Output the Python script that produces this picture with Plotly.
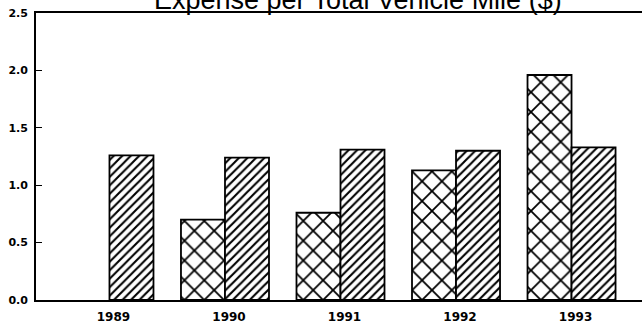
import plotly.graph_objects as go

# Yearly expense per total vehicle mile, two series per year
years = ["1989", "1990", "1991", "1992", "1993"]
series_a = [None, 0.70, 0.76, 1.13, 1.96]   # cross-hatched bars
series_b = [1.26, 1.24, 1.31, 1.30, 1.33]   # diagonal-hatched bars
y_ticks = [0.0, 0.5, 1.0, 1.5, 2.0, 2.5]

fig = go.Figure()
fig.add_trace(go.Bar(
    x=years, y=series_a, name="A",
    marker=dict(
        color="white",
        line=dict(color="black", width=1.8),
        pattern=dict(shape="x", size=14, solidity=0.24,
                     fgcolor="black", bgcolor="white", fillmode="replace"),
    ),
))
fig.add_trace(go.Bar(
    x=years, y=series_b, name="B",
    marker=dict(
        color="white",
        line=dict(color="black", width=1.8),
        pattern=dict(shape="/", size=6, solidity=0.35,
                     fgcolor="black", bgcolor="white", fillmode="replace"),
    ),
))

fig.update_layout(
    width=642, height=324,
    margin=dict(l=36, r=0, t=13, b=24),
    barmode="group", bargap=0.238, bargroupgap=0,
    showlegend=False,
    plot_bgcolor="white", paper_bgcolor="white",
    title=dict(
        text="Expense per Total Vehicle Mile ($)",
        font=dict(family="Liberation Sans", size=27, color="black"),
        x=0.531, xanchor="center", xref="paper",
        y=1.0, yanchor="middle", yref="container",
    ),
)

fig.update_xaxes(
    type="category", range=[-0.636, 4.61],
    showline=True, linecolor="black", linewidth=1.6, mirror=True,
    showgrid=False, ticks="", ticklabelshift=4, ticklabelstandoff=5,
    tickfont=dict(family="DejaVu Sans", size=12, color="black", weight="bold"),
)
fig.update_yaxes(
    range=[0, 2.5], tickvals=y_ticks, tickformat=".1f",
    showline=True, linecolor="black", linewidth=1.8,
    showgrid=False, zeroline=False,
    ticks="inside", ticklen=6, tickwidth=1.4, tickcolor="black",
    ticklabelstandoff=4,
    tickfont=dict(family="DejaVu Sans", size=11, color="black", weight="bold"),
)

fig.write_html("out.html")
